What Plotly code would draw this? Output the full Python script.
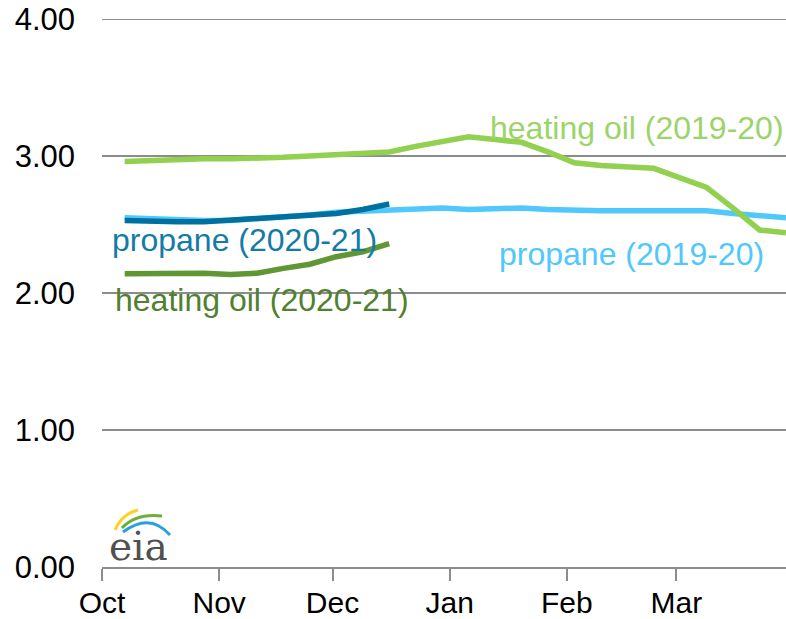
import plotly.graph_objects as go

# Weekly survey dates (2019-20 season; 2020-21 weeks share the same positions)
week_dates = ['2019-10-07', '2019-10-14', '2019-10-21', '2019-10-28',
              '2019-11-04', '2019-11-11', '2019-11-18', '2019-11-25',
              '2019-12-02', '2019-12-09', '2019-12-16', '2019-12-23',
              '2019-12-30', '2020-01-06', '2020-01-13', '2020-01-20',
              '2020-01-27', '2020-02-03', '2020-02-10', '2020-02-17',
              '2020-02-24', '2020-03-02', '2020-03-09', '2020-03-16',
              '2020-03-23', '2020-03-30']

heating_oil_2019_20 = [2.96, 2.97, 2.98, 2.98, 2.98, 2.98, 2.99, 3.00, 3.01,
                       3.02, 3.03, 3.07, 3.10, 3.14, 3.12, 3.10, 3.03, 2.95,
                       2.93, 2.92, 2.91, 2.84, 2.77, 2.62, 2.46, 2.44]
propane_2019_20 = [2.55, 2.54, 2.54, 2.53, 2.53, 2.54, 2.55, 2.57, 2.59,
                   2.60, 2.61, 2.62, 2.62, 2.61, 2.62, 2.62, 2.61, 2.60,
                   2.60, 2.60, 2.60, 2.59, 2.60, 2.58, 2.57, 2.55]
propane_2020_21 = [2.53, 2.52, 2.52, 2.52, 2.53, 2.54, 2.55, 2.56, 2.58,
                   2.61, 2.65]
heating_oil_2020_21 = [2.14, 2.145, 2.15, 2.145, 2.135, 2.145, 2.18, 2.21,
                       2.265, 2.30, 2.36]

month_ticks = ['2019-10-01', '2019-11-01', '2019-12-01', '2020-01-01',
               '2020-02-01', '2020-03-01']
month_labels = ['Oct', 'Nov', 'Dec', 'Jan', 'Feb', 'Mar']
price_ticks = [0, 1, 2, 3, 4]

# Colors
light_green = 'rgb(146,208,80)'
light_blue = 'rgb(80,200,252)'
dark_blue = 'rgb(0,112,160)'
dark_green = 'rgb(96,150,52)'
grid_gray = 'rgb(140,140,140)'

W, H = 786, 619
L, R, T, B = 102, 0, 19, 52


def px(x, y):
    # pixel position -> paper coords
    return (x - L) / (W - L - R), (H - B - y) / (H - T - B)


fig = go.Figure()
fig.add_trace(go.Scatter(x=week_dates, y=propane_2019_20, mode='lines',
                         line=dict(color=light_blue, width=5.5)))
fig.add_trace(go.Scatter(x=week_dates, y=heating_oil_2019_20, mode='lines',
                         line=dict(color=light_green, width=5.5)))
fig.add_trace(go.Scatter(x=week_dates[:len(propane_2020_21)], y=propane_2020_21,
                         mode='lines', line=dict(color=dark_blue, width=5.5)))
fig.add_trace(go.Scatter(x=week_dates[:len(heating_oil_2020_21)], y=heating_oil_2020_21,
                         mode='lines', line=dict(color=dark_green, width=5.5)))

labels = [
    ('heating oil (2019-20)', 488, 128, 'rgb(155,212,105)'),
    ('propane (2019-20)', 497, 254, light_blue),
    ('propane (2020-21)', 110, 240, 'rgb(20,122,166)'),
    ('heating oil (2020-21)', 113, 300, 'rgb(80,128,48)'),
]
for text, lx, ly, col in labels:
    ax, ay = px(lx, ly)
    fig.add_annotation(text=text, xref='paper', yref='paper', x=ax, y=ay,
                       xanchor='left', yanchor='middle', showarrow=False,
                       font=dict(size=32, color=col))

# eia logo
lx, ly = px(107, 546)
fig.add_annotation(text='eia', xref='paper', yref='paper', x=lx, y=ly,
                   xanchor='left', yanchor='middle', showarrow=False,
                   font=dict(family='DejaVu Serif', size=39, color='rgb(80,80,80)'))
arcs = [
    ((115, 530), (122, 514), (138, 510), 'rgb(250,210,40)'),
    ((122, 528), (136, 513), (162, 516), 'rgb(110,175,60)'),
    ((123, 532), (150, 512), (170, 535), 'rgb(40,160,220)'),
]
for p0, p1, p2, col in arcs:
    a, b_, c = px(*p0), px(*p1), px(*p2)
    fig.add_shape(type='path', xref='paper', yref='paper',
                  path=f'M {a[0]},{a[1]} Q {b_[0]},{b_[1]} {c[0]},{c[1]}',
                  line=dict(color=col, width=3))

# top gridline (plotly skips the one sitting on the plot edge)
fig.add_shape(type='line', xref='paper', yref='y', x0=0, x1=1,
              y0=price_ticks[-1], y1=price_ticks[-1],
              line=dict(color=grid_gray, width=2), layer='below')

fig.update_layout(
    width=W, height=H,
    margin=dict(l=L, r=R, t=T, b=B),
    plot_bgcolor='white',
    paper_bgcolor='white',
    showlegend=False,
    hovermode=False,
    font=dict(family='Liberation Sans, Arial', size=31, color='black'),
    xaxis=dict(type='date', range=['2019-10-01', '2020-03-30'],
               tickvals=month_ticks, ticktext=month_labels,
               ticks='outside', ticklen=12, tickwidth=2, tickcolor=grid_gray,
               showline=True, linecolor=grid_gray, linewidth=2,
               showgrid=False, zeroline=False, automargin=False,
               ticklabelstandoff=-4, tickfont=dict(size=30)),
    yaxis=dict(range=[0, 4], tickvals=price_ticks, tickformat='.2f',
               showgrid=True, gridcolor=grid_gray, gridwidth=2,
               zeroline=False, showline=False, ticks='', automargin=False,
               ticklabelstandoff=26, tickfont=dict(size=31)),
)

fig.write_html("out.html", config={'displayModeBar': False},
               post_script="document.body.style.margin='0';")
